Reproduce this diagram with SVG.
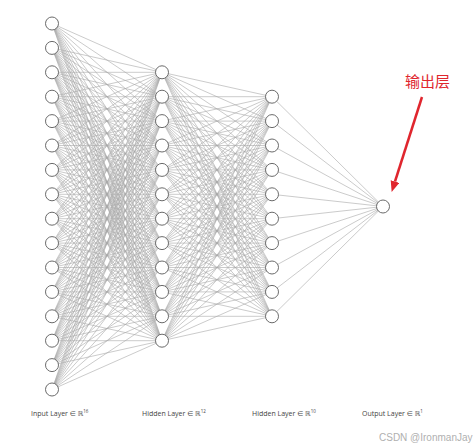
<svg xmlns="http://www.w3.org/2000/svg" width="474" height="447" viewBox="0 0 474 447">
<style>
.e{fill:none;stroke:#a8a8a8;stroke-width:0.6}
.n circle{fill:#fff;stroke:#5a5a5a;stroke-width:0.9}
.lbl{font-family:"Open Sans","DejaVu Sans",sans-serif;font-size:7px;fill:#444}
.sup{font-size:4.5px}
</style>
<defs>
<marker id="ah" markerUnits="userSpaceOnUse" markerWidth="12" markerHeight="10" refX="0" refY="4.5" orient="auto">
<path d="M0,0 L11,4.5 L0,9 z" fill="#e0262e"/>
</marker>
</defs>
<rect width="474" height="447" fill="#fff"/>
<g id="connectors">
<path class="e" d="
M52 23.5L162 72.3M52 23.5L162 96.7M52 23.5L162 121.1M52 23.5L162 145.5M52 23.5L162 169.9M52 23.5L162 194.3M52 23.5L162 218.7M52 23.5L162 243.1M52 23.5L162 267.5M52 23.5L162 291.9M52 23.5L162 316.3M52 23.5L162 340.7
M52 47.9L162 72.3M52 47.9L162 96.7M52 47.9L162 121.1M52 47.9L162 145.5M52 47.9L162 169.9M52 47.9L162 194.3M52 47.9L162 218.7M52 47.9L162 243.1M52 47.9L162 267.5M52 47.9L162 291.9M52 47.9L162 316.3M52 47.9L162 340.7
M52 72.3L162 72.3M52 72.3L162 96.7M52 72.3L162 121.1M52 72.3L162 145.5M52 72.3L162 169.9M52 72.3L162 194.3M52 72.3L162 218.7M52 72.3L162 243.1M52 72.3L162 267.5M52 72.3L162 291.9M52 72.3L162 316.3M52 72.3L162 340.7
M52 96.7L162 72.3M52 96.7L162 96.7M52 96.7L162 121.1M52 96.7L162 145.5M52 96.7L162 169.9M52 96.7L162 194.3M52 96.7L162 218.7M52 96.7L162 243.1M52 96.7L162 267.5M52 96.7L162 291.9M52 96.7L162 316.3M52 96.7L162 340.7
M52 121.1L162 72.3M52 121.1L162 96.7M52 121.1L162 121.1M52 121.1L162 145.5M52 121.1L162 169.9M52 121.1L162 194.3M52 121.1L162 218.7M52 121.1L162 243.1M52 121.1L162 267.5M52 121.1L162 291.9M52 121.1L162 316.3M52 121.1L162 340.7
M52 145.5L162 72.3M52 145.5L162 96.7M52 145.5L162 121.1M52 145.5L162 145.5M52 145.5L162 169.9M52 145.5L162 194.3M52 145.5L162 218.7M52 145.5L162 243.1M52 145.5L162 267.5M52 145.5L162 291.9M52 145.5L162 316.3M52 145.5L162 340.7
M52 169.9L162 72.3M52 169.9L162 96.7M52 169.9L162 121.1M52 169.9L162 145.5M52 169.9L162 169.9M52 169.9L162 194.3M52 169.9L162 218.7M52 169.9L162 243.1M52 169.9L162 267.5M52 169.9L162 291.9M52 169.9L162 316.3M52 169.9L162 340.7
M52 194.3L162 72.3M52 194.3L162 96.7M52 194.3L162 121.1M52 194.3L162 145.5M52 194.3L162 169.9M52 194.3L162 194.3M52 194.3L162 218.7M52 194.3L162 243.1M52 194.3L162 267.5M52 194.3L162 291.9M52 194.3L162 316.3M52 194.3L162 340.7
M52 218.7L162 72.3M52 218.7L162 96.7M52 218.7L162 121.1M52 218.7L162 145.5M52 218.7L162 169.9M52 218.7L162 194.3M52 218.7L162 218.7M52 218.7L162 243.1M52 218.7L162 267.5M52 218.7L162 291.9M52 218.7L162 316.3M52 218.7L162 340.7
M52 243.1L162 72.3M52 243.1L162 96.7M52 243.1L162 121.1M52 243.1L162 145.5M52 243.1L162 169.9M52 243.1L162 194.3M52 243.1L162 218.7M52 243.1L162 243.1M52 243.1L162 267.5M52 243.1L162 291.9M52 243.1L162 316.3M52 243.1L162 340.7
M52 267.5L162 72.3M52 267.5L162 96.7M52 267.5L162 121.1M52 267.5L162 145.5M52 267.5L162 169.9M52 267.5L162 194.3M52 267.5L162 218.7M52 267.5L162 243.1M52 267.5L162 267.5M52 267.5L162 291.9M52 267.5L162 316.3M52 267.5L162 340.7
M52 291.9L162 72.3M52 291.9L162 96.7M52 291.9L162 121.1M52 291.9L162 145.5M52 291.9L162 169.9M52 291.9L162 194.3M52 291.9L162 218.7M52 291.9L162 243.1M52 291.9L162 267.5M52 291.9L162 291.9M52 291.9L162 316.3M52 291.9L162 340.7
M52 316.3L162 72.3M52 316.3L162 96.7M52 316.3L162 121.1M52 316.3L162 145.5M52 316.3L162 169.9M52 316.3L162 194.3M52 316.3L162 218.7M52 316.3L162 243.1M52 316.3L162 267.5M52 316.3L162 291.9M52 316.3L162 316.3M52 316.3L162 340.7
M52 340.7L162 72.3M52 340.7L162 96.7M52 340.7L162 121.1M52 340.7L162 145.5M52 340.7L162 169.9M52 340.7L162 194.3M52 340.7L162 218.7M52 340.7L162 243.1M52 340.7L162 267.5M52 340.7L162 291.9M52 340.7L162 316.3M52 340.7L162 340.7
M52 365.1L162 72.3M52 365.1L162 96.7M52 365.1L162 121.1M52 365.1L162 145.5M52 365.1L162 169.9M52 365.1L162 194.3M52 365.1L162 218.7M52 365.1L162 243.1M52 365.1L162 267.5M52 365.1L162 291.9M52 365.1L162 316.3M52 365.1L162 340.7
M52 389.5L162 72.3M52 389.5L162 96.7M52 389.5L162 121.1M52 389.5L162 145.5M52 389.5L162 169.9M52 389.5L162 194.3M52 389.5L162 218.7M52 389.5L162 243.1M52 389.5L162 267.5M52 389.5L162 291.9M52 389.5L162 316.3M52 389.5L162 340.7"/>
<path class="e" d="
M162 72.3L272 96.7M162 72.3L272 121.1M162 72.3L272 145.5M162 72.3L272 169.9M162 72.3L272 194.3M162 72.3L272 218.7M162 72.3L272 243.1M162 72.3L272 267.5M162 72.3L272 291.9M162 72.3L272 316.3
M162 96.7L272 96.7M162 96.7L272 121.1M162 96.7L272 145.5M162 96.7L272 169.9M162 96.7L272 194.3M162 96.7L272 218.7M162 96.7L272 243.1M162 96.7L272 267.5M162 96.7L272 291.9M162 96.7L272 316.3
M162 121.1L272 96.7M162 121.1L272 121.1M162 121.1L272 145.5M162 121.1L272 169.9M162 121.1L272 194.3M162 121.1L272 218.7M162 121.1L272 243.1M162 121.1L272 267.5M162 121.1L272 291.9M162 121.1L272 316.3
M162 145.5L272 96.7M162 145.5L272 121.1M162 145.5L272 145.5M162 145.5L272 169.9M162 145.5L272 194.3M162 145.5L272 218.7M162 145.5L272 243.1M162 145.5L272 267.5M162 145.5L272 291.9M162 145.5L272 316.3
M162 169.9L272 96.7M162 169.9L272 121.1M162 169.9L272 145.5M162 169.9L272 169.9M162 169.9L272 194.3M162 169.9L272 218.7M162 169.9L272 243.1M162 169.9L272 267.5M162 169.9L272 291.9M162 169.9L272 316.3
M162 194.3L272 96.7M162 194.3L272 121.1M162 194.3L272 145.5M162 194.3L272 169.9M162 194.3L272 194.3M162 194.3L272 218.7M162 194.3L272 243.1M162 194.3L272 267.5M162 194.3L272 291.9M162 194.3L272 316.3
M162 218.7L272 96.7M162 218.7L272 121.1M162 218.7L272 145.5M162 218.7L272 169.9M162 218.7L272 194.3M162 218.7L272 218.7M162 218.7L272 243.1M162 218.7L272 267.5M162 218.7L272 291.9M162 218.7L272 316.3
M162 243.1L272 96.7M162 243.1L272 121.1M162 243.1L272 145.5M162 243.1L272 169.9M162 243.1L272 194.3M162 243.1L272 218.7M162 243.1L272 243.1M162 243.1L272 267.5M162 243.1L272 291.9M162 243.1L272 316.3
M162 267.5L272 96.7M162 267.5L272 121.1M162 267.5L272 145.5M162 267.5L272 169.9M162 267.5L272 194.3M162 267.5L272 218.7M162 267.5L272 243.1M162 267.5L272 267.5M162 267.5L272 291.9M162 267.5L272 316.3
M162 291.9L272 96.7M162 291.9L272 121.1M162 291.9L272 145.5M162 291.9L272 169.9M162 291.9L272 194.3M162 291.9L272 218.7M162 291.9L272 243.1M162 291.9L272 267.5M162 291.9L272 291.9M162 291.9L272 316.3
M162 316.3L272 96.7M162 316.3L272 121.1M162 316.3L272 145.5M162 316.3L272 169.9M162 316.3L272 194.3M162 316.3L272 218.7M162 316.3L272 243.1M162 316.3L272 267.5M162 316.3L272 291.9M162 316.3L272 316.3
M162 340.7L272 96.7M162 340.7L272 121.1M162 340.7L272 145.5M162 340.7L272 169.9M162 340.7L272 194.3M162 340.7L272 218.7M162 340.7L272 243.1M162 340.7L272 267.5M162 340.7L272 291.9M162 340.7L272 316.3"/>
<path class="e" d="M272 96.7L383 206.5M272 121.1L383 206.5M272 145.5L383 206.5M272 169.9L383 206.5M272 194.3L383 206.5M272 218.7L383 206.5M272 243.1L383 206.5M272 267.5L383 206.5M272 291.9L383 206.5M272 316.3L383 206.5"/>
</g>
<g class="n">
<g id="in1"><circle cx="52" cy="23.5" r="6.5"/></g>
<g id="in2"><circle cx="52" cy="47.9" r="6.5"/></g>
<g id="in3"><circle cx="52" cy="72.3" r="6.5"/></g>
<g id="in4"><circle cx="52" cy="96.7" r="6.5"/></g>
<g id="in5"><circle cx="52" cy="121.1" r="6.5"/></g>
<g id="in6"><circle cx="52" cy="145.5" r="6.5"/></g>
<g id="in7"><circle cx="52" cy="169.9" r="6.5"/></g>
<g id="in8"><circle cx="52" cy="194.3" r="6.5"/></g>
<g id="in9"><circle cx="52" cy="218.7" r="6.5"/></g>
<g id="in10"><circle cx="52" cy="243.1" r="6.5"/></g>
<g id="in11"><circle cx="52" cy="267.5" r="6.5"/></g>
<g id="in12"><circle cx="52" cy="291.9" r="6.5"/></g>
<g id="in13"><circle cx="52" cy="316.3" r="6.5"/></g>
<g id="in14"><circle cx="52" cy="340.7" r="6.5"/></g>
<g id="in15"><circle cx="52" cy="365.1" r="6.5"/></g>
<g id="in16"><circle cx="52" cy="389.5" r="6.5"/></g>
<g id="h1_1"><circle cx="162" cy="72.3" r="6.5"/></g>
<g id="h1_2"><circle cx="162" cy="96.7" r="6.5"/></g>
<g id="h1_3"><circle cx="162" cy="121.1" r="6.5"/></g>
<g id="h1_4"><circle cx="162" cy="145.5" r="6.5"/></g>
<g id="h1_5"><circle cx="162" cy="169.9" r="6.5"/></g>
<g id="h1_6"><circle cx="162" cy="194.3" r="6.5"/></g>
<g id="h1_7"><circle cx="162" cy="218.7" r="6.5"/></g>
<g id="h1_8"><circle cx="162" cy="243.1" r="6.5"/></g>
<g id="h1_9"><circle cx="162" cy="267.5" r="6.5"/></g>
<g id="h1_10"><circle cx="162" cy="291.9" r="6.5"/></g>
<g id="h1_11"><circle cx="162" cy="316.3" r="6.5"/></g>
<g id="h1_12"><circle cx="162" cy="340.7" r="6.5"/></g>
<g id="h2_1"><circle cx="272" cy="96.7" r="6.5"/></g>
<g id="h2_2"><circle cx="272" cy="121.1" r="6.5"/></g>
<g id="h2_3"><circle cx="272" cy="145.5" r="6.5"/></g>
<g id="h2_4"><circle cx="272" cy="169.9" r="6.5"/></g>
<g id="h2_5"><circle cx="272" cy="194.3" r="6.5"/></g>
<g id="h2_6"><circle cx="272" cy="218.7" r="6.5"/></g>
<g id="h2_7"><circle cx="272" cy="243.1" r="6.5"/></g>
<g id="h2_8"><circle cx="272" cy="267.5" r="6.5"/></g>
<g id="h2_9"><circle cx="272" cy="291.9" r="6.5"/></g>
<g id="h2_10"><circle cx="272" cy="316.3" r="6.5"/></g>
<g id="out1"><circle cx="383" cy="206.5" r="6.5"/></g>
</g>
<g id="labels">
<text class="lbl" x="31" y="416">Input Layer ∈ ℝ<tspan class="sup" dy="-3">16</tspan></text>
<text class="lbl" x="142" y="416">Hidden Layer ∈ ℝ<tspan class="sup" dy="-3">12</tspan></text>
<text class="lbl" x="252" y="416">Hidden Layer ∈ ℝ<tspan class="sup" dy="-3">10</tspan></text>
<text class="lbl" x="362" y="416">Output Layer ∈ ℝ<tspan class="sup" dy="-3">1</tspan></text>
</g>
<g id="annotation">
<text x="405" y="87" font-family="'Noto Sans CJK SC',sans-serif" font-size="15" fill="#e0262e">输出层</text>
<line x1="422" y1="97" x2="395" y2="181.5" stroke="#e0262e" stroke-width="2.5" marker-end="url(#ah)"/>
</g>
<text x="379" y="441" font-family="'Liberation Sans',Arial,sans-serif" font-size="10" fill="#b0b0b0">CSDN @IronmanJay</text>
</svg>
